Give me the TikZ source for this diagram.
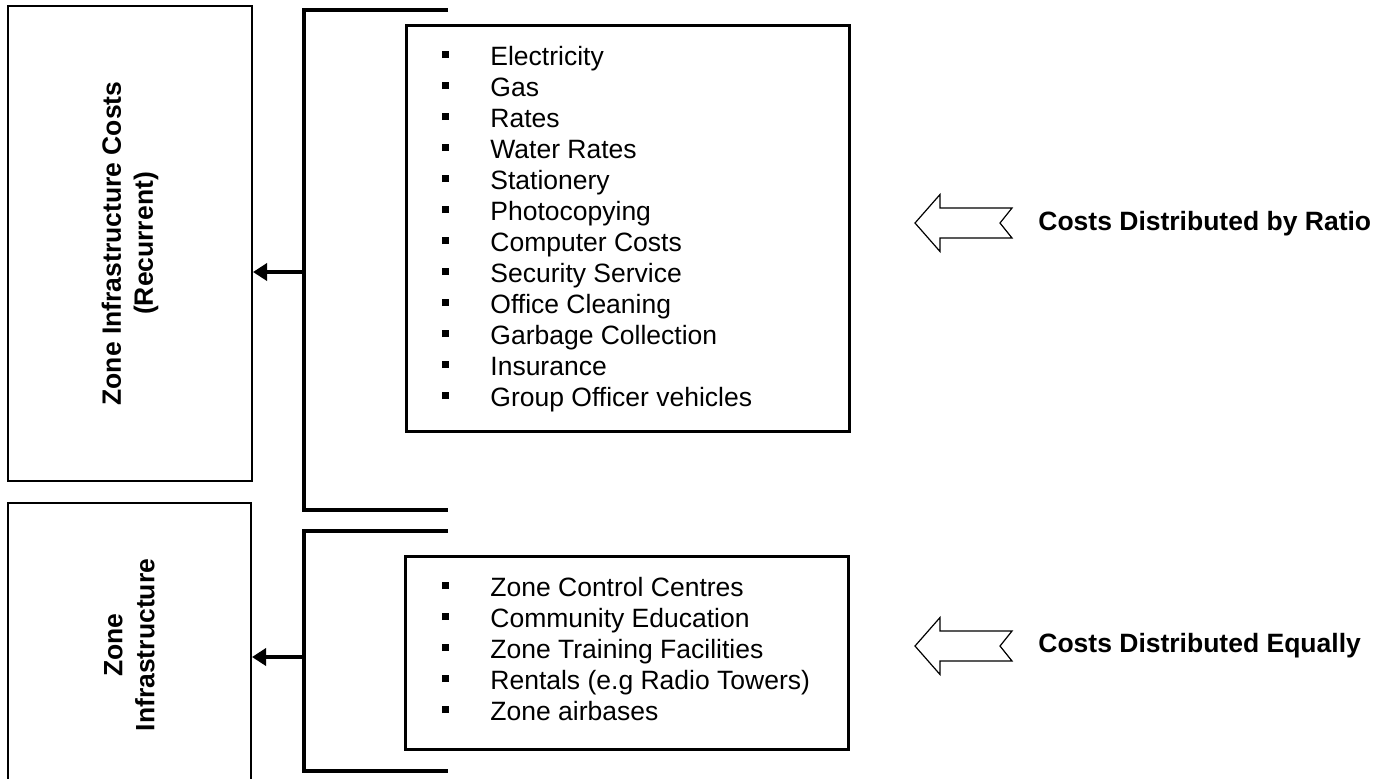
\documentclass[tikz,border=0pt]{standalone}
\usepackage{fontspec}
\setmainfont{Liberation Sans}
\usetikzlibrary{arrows.meta}

% square bullet in front of each cost item
\newcommand{\listmark}{\makebox[24pt][l]{\rule[3.5pt]{3.5pt}{3.5pt}}}

\begin{document}
\begin{tikzpicture}[x=0.5pt, y=-0.5pt,
		font=\fontsize{13.25pt}{15.5pt}\selectfont,
		zonebox/.style={draw, line width=1pt, rotate=90, align=center, inner sep=0pt,
			font=\fontsize{13.25pt}{16pt}\selectfont\bfseries},
		listbox/.style={draw, line width=1.6pt, anchor=north west, inner sep=0pt},
		item/.style={anchor=base west, inner sep=0pt},
		bracket/.style={line width=2.25pt},
		feed/.style={line width=2pt, -{Triangle[length=7pt, width=8.5pt]}},
		note/.style={anchor=base west, inner sep=0pt, font=\fontsize{13.25pt}{15.5pt}\selectfont\bfseries},
		blockarrow/.style={line width=0.6pt, line join=miter}
		]
	\useasboundingbox (0,0) rectangle (1390,778);
	\clip (0,0) rectangle (1390,778);

	% zone boxes (rotated, so south is the right-hand side)
	\node [zonebox, minimum width=237.5pt, minimum height=122pt] (zicr) at (130,243.5)
		{Zone Infrastructure Costs\\(Recurrent)};
	\node [zonebox, minimum width=142pt, minimum height=121.5pt] (zi) at (129.5,645)
		{Zone\\Infrastructure};

	% brackets and feeds
	\draw [bracket] (448,10) -- (304,10) -- (304,510) -- (448,510);
	\draw [bracket] (448,531) -- (304,531) -- (304,771) -- (448,771);
	\coordinate (brA) at (304,272);
	\coordinate (brB) at (304,657);
	\draw [feed] (brA) -- (brA -| zicr.south);
	\draw [feed] (brB) -- (brB -| zi.south);

	% recurrent cost items
	\node [listbox, minimum width=221.5pt, minimum height=203pt] (ratiolist) at (405,24) {};
	\foreach \t [count=\i] in {Electricity, Gas, Rates, Water Rates, Stationery, Photocopying,
			Computer Costs, Security Service, Office Cleaning, Garbage Collection, Insurance,
			Group Officer vehicles}
		\node [item] (r\i) at (442,{34+31*\i}) {\listmark\t};

	% infrastructure items
	\node [listbox, minimum width=221.5pt, minimum height=96.5pt] (equallist) at (404,555) {};
	\foreach \t [count=\i] in {Zone Control Centres, Community Education,
			Zone Training Facilities, Rentals (e.g Radio Towers), Zone airbases}
		\node [item] (e\i) at (442,{565+31*\i}) {\listmark\t};

	% hollow arrows with notched tails
	\foreach \c in {223,646}
		\draw [blockarrow] (915,\c) -- ++(25,-28.5) -- ++(0,13.5) -- ++(72,0) -- ++(-12,15)
			-- ++(12,15) -- ++(-72,0) -- ++(0,13.5) -- cycle;

	\node [note] (ratio) at (1038,230) {Costs Distributed by Ratio};
	\node [note] (equal) at (1038,652) {Costs Distributed Equally};
\end{tikzpicture}
\end{document}
